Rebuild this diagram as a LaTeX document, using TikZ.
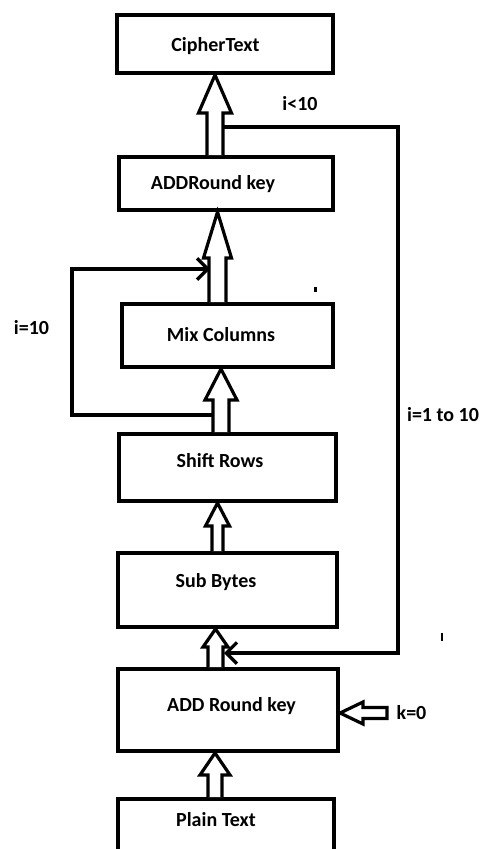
\documentclass[tikz,border=0pt]{standalone}
\usepackage{fontspec}
\setmainfont{Carlito}
\usetikzlibrary{calc,arrows.meta}
\def\pxu{0.75pt}
\newcommand\blkup[6]{%
  \path (#5.south) ++(0,#6) coordinate (hb);
  \draw[blk] ({#1-#2},0 |- #4.north) -- ({#1-#2},0 |- hb) -- ({#1-#3},0 |- hb)
    -- (#1,0 |- #5.south) -- ({#1+#3},0 |- hb) -- ({#1+#2},0 |- hb) -- ({#1+#2},0 |- #4.north);
}
\begin{document}
\begin{tikzpicture}[x=0.75pt,y=-0.75pt,
  box/.style={draw, line width=3pt, rectangle, inner sep=0pt},
  txt/.style={font=\fontsize{15}{18}\selectfont\bfseries, inner sep=0pt},
  lbl/.style={font=\fontsize{15}{18}\selectfont\bfseries, inner sep=0pt},
  blk/.style={draw, fill=white, line width=2.4pt, line join=miter},
  looparrow/.style={draw, line width=2.4pt},
  barb/.style={-{Straight Barb[length=8pt,width=16pt]}}
]
\clip (0,0) rectangle (480,849);
\fill[white] (0,0) rectangle (480,849);

% boxes
\node[box, minimum width=216*\pxu, minimum height=58*\pxu] (cipher) at (225,44) {};
\node[box, minimum width=214*\pxu, minimum height=53*\pxu] (ark2) at (226,183.5) {};
\node[box, minimum width=211*\pxu, minimum height=63*\pxu] (mix) at (227.5,335.5) {};
\node[box, minimum width=217*\pxu, minimum height=67*\pxu] (shift) at (227.5,467.5) {};
\node[box, minimum width=219*\pxu, minimum height=74*\pxu] (sub) at (227.5,590) {};
\node[box, minimum width=220*\pxu, minimum height=82*\pxu] (ark1) at (228,710) {};
\node[box, minimum width=216*\pxu, minimum height=82*\pxu] (plain) at (226,840) {};

% box texts
\node[txt] (cipherT) at (215.5,46) {CipherText};
\node[txt] (ark2T) at (213,184) {ADDRound key};
\node[txt] (mixT) at (221,335) {Mix Columns};
\node[txt] (shiftT) at (220,461) {Shift Rows};
\node[txt] (subT) at (216,582) {Sub Bytes};
\node[txt] (ark1T) at (231.5,706) {ADD Round key};
\node[txt] (plainT) at (216,820) {Plain Text};

% block arrows
\blkup{215}{8}{16.5}{ark2}{cipher}{38}
\blkup{217.5}{8.5}{14}{mix}{ark2}{46}
\blkup{221}{8}{16}{shift}{mix}{31}
\blkup{217.5}{5.5}{12}{sub}{shift}{23}
\blkup{215.5}{7.5}{12.5}{ark1}{sub}{18}
\blkup{215}{7}{15}{plain}{ark1}{22}

% k=0 arrow
\coordinate (ktip) at (ark1.east |- 0,713);
\draw[blk] (387,707.5) -- (363,707.5) -- (363,702) -- (ktip) -- (363,724)
  -- (363,718.5) -- (387,718.5) -- cycle;
\node[lbl] (k0) at (411.5,713) {k=0};

% loop i<10
\coordinate (l1s) at (223,127);
\coordinate (l1a) at (398,127);
\coordinate (l1b) at (398,653);
\coordinate (l1e) at (224,653);
\draw[looparrow, barb] (l1s) -- (l1a) -- (l1b) -- (l1e);
\node[lbl] (ilt) at (300,104) {i<10};
\node[lbl] (irange) at (443,415) {i=1 to 10};

% loop i=10
\coordinate (l2s) at (213,415);
\coordinate (l2a) at (72,415);
\coordinate (l2b) at (72,269);
\coordinate (l2e) at (210,269);
\draw[looparrow, barb] (l2s) -- (l2a) -- (l2b) -- (l2e);
\node[lbl] (ieq) at (31.5,328) {i=10};

% stray marks
\fill (313.5,287) rectangle (316.5,292);
\fill (441,633) rectangle (443,641);
\end{tikzpicture}
\end{document}
